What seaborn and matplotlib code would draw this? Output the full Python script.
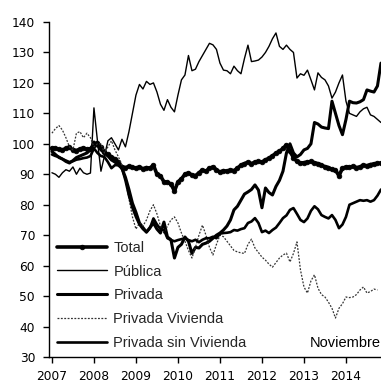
import numpy as np
import pandas as pd
import matplotlib
matplotlib.use("Agg")
import matplotlib.pyplot as plt
import seaborn as sns

# Monthly index values, January 2007 - November 2014
start_year = 2007
years = [2007, 2008, 2009, 2010, 2011, 2012, 2013, 2014]
yticks = [30, 40, 50, 60, 70, 80, 90, 100, 110, 120, 130, 140]

total = [98.6, 98.5, 98.2, 98.0, 98.5, 98.8, 98.0, 97.8, 98.3, 98.6, 98.2, 98.4,
         99.5, 100.3, 99.0, 97.3, 96.5, 95.7, 95.0, 94.0, 92.4, 92.2, 92.6, 92.3,
         92.0, 92.4, 91.8, 92.2, 92.0, 93.0, 90.0, 89.5, 87.5, 87.4, 86.8, 84.5,
         87.5, 88.5, 90.0, 90.4, 89.8, 89.5, 90.5, 91.4, 91.0, 92.0, 92.4, 91.5,
         90.7, 91.2, 91.0, 91.4, 91.2, 92.0, 93.0, 93.5, 94.0, 93.5, 94.0, 94.2,
         94.0, 94.7, 95.3, 96.0, 97.0, 97.5, 98.5, 99.6, 97.5, 95.5, 94.2, 93.7,
         93.8, 94.0, 94.2, 93.8, 93.5, 93.0, 92.5, 92.2, 91.6, 91.4, 89.5, 92.0,
         92.4, 92.3, 92.6, 92.2, 92.4, 93.0, 92.8, 93.2, 93.4, 93.6, 93.7]

publica = [90.5, 90.0, 89.0, 90.5, 91.5, 91.0, 92.4, 90.0, 92.0, 90.5, 90.0, 90.4,
           111.8, 101.0, 91.0, 96.0, 101.0, 102.0, 100.0, 98.0, 101.5, 99.0, 104.0, 110.0,
           116.0, 119.5, 118.0, 120.5, 119.5, 120.0, 117.0, 113.0, 111.0, 114.5, 112.0, 110.5,
           116.0, 121.0, 122.6, 129.0, 124.0, 124.5, 127.0, 129.0, 131.0, 133.0, 132.5, 131.0,
           126.5, 124.2, 124.0, 123.0, 125.5, 124.0, 123.0, 128.0, 132.4, 127.0, 127.2, 127.5,
           128.5, 130.0, 132.0, 134.5, 136.4, 132.0, 131.0, 132.4, 131.0, 130.0, 121.6, 123.0,
           122.5, 124.2, 121.0, 117.7, 123.3, 121.8, 121.0, 119.0, 115.0, 117.0, 120.0, 122.6,
           114.0, 110.0, 109.5, 109.0, 110.5, 111.5, 112.0, 109.5, 109.0, 108.0, 107.0]

privada = [97.5, 96.5, 95.5, 95.0, 94.2, 93.7, 94.5, 95.5, 96.0, 96.5, 97.0, 98.0,
           100.6, 99.5, 98.0, 97.0, 96.0, 94.7, 94.0, 93.0, 92.0, 89.0, 85.0, 80.5,
           77.5, 74.0, 72.5, 71.0, 72.5, 74.0, 72.0, 70.7, 74.3, 69.4, 68.5, 62.5,
           66.0, 67.0, 69.4, 68.0, 64.0, 66.0, 65.8, 67.0, 67.4, 68.0, 69.0, 70.0,
           70.7, 71.7, 73.0, 75.0, 78.3, 79.5, 81.5, 83.5, 84.2, 85.0, 86.5, 84.8,
           79.0, 85.5, 84.0, 83.2, 86.0, 88.0, 91.0, 97.0, 100.0, 97.0, 95.7, 96.5,
           98.0, 98.5, 100.0, 107.0, 106.5, 105.5, 105.2, 105.0, 114.0, 110.0, 106.0, 103.0,
           108.0, 114.0, 113.5, 113.4, 113.8, 114.5, 117.7, 117.3, 117.0, 119.0, 126.5]

privada_vivienda = [103.5, 105.0, 106.0, 104.5, 102.0, 99.0, 98.0, 103.5, 104.0, 102.0, 103.5, 102.0,
                    99.0, 100.0, 100.0, 97.0, 99.0, 101.0, 98.0, 95.7, 93.0, 88.0, 82.0, 76.0,
                    72.0, 74.0, 73.0, 75.0, 78.0, 80.0, 77.0, 73.0, 70.7, 73.0, 75.0, 76.0,
                    74.0, 70.7, 68.0, 65.0, 62.5, 66.0, 70.0, 73.3, 70.0, 66.0, 63.5, 67.0,
                    70.0, 69.5, 68.0, 66.5, 65.0, 64.5, 64.2, 64.0, 67.0, 68.7, 65.8, 64.3,
                    62.8, 61.8, 60.5, 59.5, 61.0, 62.5, 63.5, 64.1, 61.2, 64.0, 67.8, 58.6,
                    53.0, 51.0, 55.0, 57.0, 52.6, 50.5, 49.7, 48.0, 46.0, 42.8, 46.0, 47.5,
                    49.7, 49.5, 49.7, 50.5, 52.0, 53.0, 51.0, 51.5, 52.3, 52.0]

privada_sin_vivienda = [96.5, 96.0, 95.7, 95.0, 94.5, 94.0, 94.3, 94.8, 95.0, 95.3, 95.5, 96.0,
                        98.5, 97.0, 96.0, 95.7, 94.0, 92.0, 93.0, 93.0, 92.0, 88.0, 83.0, 79.0,
                        76.0, 73.5, 72.0, 71.0, 72.3, 75.5, 73.5, 72.0, 71.7, 69.0, 68.4, 68.0,
                        68.4, 68.7, 69.0, 68.4, 68.0, 68.5, 67.7, 68.5, 69.0, 69.0, 69.5, 69.0,
                        70.5, 70.7, 70.8, 71.0, 71.7, 71.5, 72.0, 72.3, 74.0, 74.5, 75.6, 74.0,
                        71.0, 71.5, 70.7, 71.7, 72.5, 74.0, 75.6, 76.5, 78.3, 78.9, 77.0, 75.0,
                        74.3, 75.5, 78.0, 79.5, 78.5, 76.6, 76.0, 75.5, 76.6, 75.0, 72.3, 73.5,
                        76.0, 80.0, 80.5, 81.0, 81.5, 81.3, 81.5, 81.0, 81.5, 83.0, 85.0]


def months_to_years(values):
    return start_year + np.arange(len(values)) / 12.0


sns.set_style("white")
plt.rcParams["font.family"] = ["DejaVu Sans"]

fig = plt.figure(figsize=(3.81, 3.85), dpi=100)
ax = fig.add_axes([49 / 381, 28 / 385, 332 / 381, 335 / 385])

series = [
    ("Total", total, dict(lw=2.6, marker="o", ms=3.4, mfc="black", mec="black", mew=0.5)),
    ("Pública", publica, dict(lw=1.0)),
    ("Privada", privada, dict(lw=2.2)),
    ("Privada Vivienda", privada_vivienda, dict(lw=0.9, ls=(0, (1.5, 1.2)), color="#333333")),
    ("Privada sin Vivienda", privada_sin_vivienda, dict(lw=1.9)),
]

for name, values, style in series:
    df = pd.DataFrame({"t": months_to_years(values), "v": values})
    kw = dict(color="black")
    kw.update(style)
    sns.lineplot(data=df, x="t", y="v", ax=ax, label=name, **kw)

ax.set_xlim(2006.93, 2014.834)
ax.set_ylim(30, 140)
ax.set_xticks(years)
ax.set_xticklabels([str(y) for y in years])
ax.set_yticks(yticks)
ax.set_xlabel("")
ax.set_ylabel("")

for side in ("top", "right"):
    ax.spines[side].set_visible(False)
for side in ("left", "bottom"):
    ax.spines[side].set_color("black")
    ax.spines[side].set_linewidth(1.0)

ax.tick_params(axis="both", direction="out", length=4, width=1.0, color="black",
               labelsize=8.8, labelcolor="black", left=True, bottom=True)
ax.tick_params(axis="y", pad=6)
ax.tick_params(axis="x", pad=5)

handles, labels = ax.get_legend_handles_labels()
leg = ax.legend(handles, labels, loc="lower left", bbox_to_anchor=(0.025, 0.02),
                frameon=False, handlelength=3.4, handletextpad=0.45, numpoints=1,
                labelspacing=0.68, borderpad=0.0, borderaxespad=0.0,
                prop={"family": "Liberation Sans", "size": 10.5})

ax.text(0.998, 34.6, "Noviembre", ha="right", va="center",
        transform=ax.get_yaxis_transform(), fontsize=10.5,
        family="Liberation Sans", color="black")

fig.savefig("out.png", dpi=100, facecolor="white")
